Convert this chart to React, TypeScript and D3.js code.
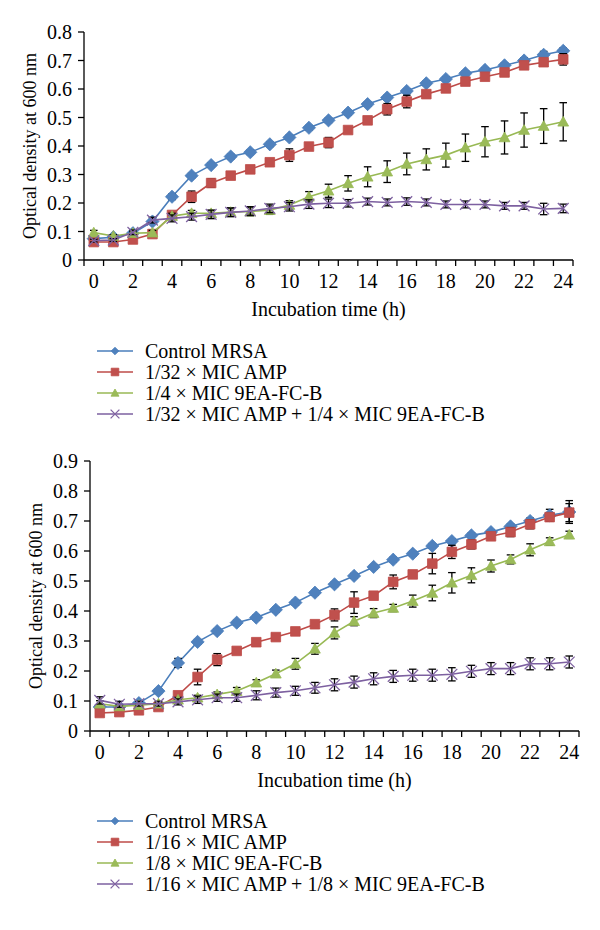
import React from 'react';
import * as d3 from 'd3';

const hours = [0, 1, 2, 3, 4, 5, 6, 7, 8, 9, 10, 11, 12, 13, 14, 15, 16, 17, 18, 19, 20, 21, 22, 23, 24];
const xTickLabels = ['0', '2', '4', '6', '8', '10', '12', '14', '16', '18', '20', '22', '24'];

// Top chart
const topControl = [0.075, 0.08, 0.094, 0.135, 0.222, 0.296, 0.333, 0.363, 0.378, 0.406, 0.43, 0.464, 0.49, 0.517, 0.547, 0.57, 0.593, 0.62, 0.635, 0.655, 0.667, 0.683, 0.7, 0.72, 0.734];
const topControlErr = [0.005, 0.005, 0.005, 0.008, 0.01, 0.008, 0.008, 0.008, 0.008, 0.008, 0.008, 0.008, 0.008, 0.008, 0.008, 0.008, 0.008, 0.008, 0.008, 0.008, 0.008, 0.008, 0.01, 0.012, 0.01];
const topAmp = [0.063, 0.063, 0.072, 0.091, 0.158, 0.222, 0.27, 0.296, 0.318, 0.343, 0.368, 0.398, 0.412, 0.456, 0.49, 0.529, 0.556, 0.582, 0.602, 0.626, 0.643, 0.658, 0.683, 0.694, 0.704];
const topAmpErr = [0.005, 0.005, 0.005, 0.01, 0.012, 0.02, 0.015, 0.01, 0.01, 0.01, 0.022, 0.01, 0.018, 0.01, 0.01, 0.02, 0.022, 0.012, 0.012, 0.013, 0.012, 0.01, 0.01, 0.012, 0.02];
const topFcb = [0.096, 0.084, 0.094, 0.096, 0.154, 0.164, 0.164, 0.168, 0.17, 0.175, 0.193, 0.222, 0.243, 0.269, 0.292, 0.31, 0.337, 0.353, 0.368, 0.394, 0.415, 0.43, 0.456, 0.47, 0.485];
const topFcbErr = [0.008, 0.005, 0.005, 0.008, 0.01, 0.01, 0.01, 0.015, 0.015, 0.015, 0.015, 0.018, 0.023, 0.027, 0.035, 0.038, 0.038, 0.037, 0.042, 0.048, 0.053, 0.058, 0.06, 0.061, 0.067];
const topCombo = [0.068, 0.07, 0.097, 0.14, 0.146, 0.152, 0.16, 0.167, 0.172, 0.181, 0.187, 0.196, 0.199, 0.199, 0.205, 0.202, 0.205, 0.202, 0.195, 0.195, 0.195, 0.19, 0.19, 0.179, 0.181];
const topComboErr = [0.005, 0.005, 0.008, 0.01, 0.012, 0.012, 0.015, 0.015, 0.015, 0.015, 0.015, 0.015, 0.015, 0.013, 0.012, 0.012, 0.013, 0.012, 0.012, 0.012, 0.012, 0.012, 0.012, 0.02, 0.015];
const topLegend = ['Control MRSA', '1/32 × MIC AMP', '1/4 × MIC 9EA-FC-B', '1/32 × MIC AMP + 1/4 × MIC 9EA-FC-B'];
const topYTicks = [0, 0.1, 0.2, 0.3, 0.4, 0.5, 0.6, 0.7, 0.8];

// Bottom chart
const botControl = [0.08, 0.08, 0.093, 0.133, 0.227, 0.297, 0.333, 0.361, 0.378, 0.404, 0.428, 0.461, 0.489, 0.517, 0.547, 0.571, 0.591, 0.617, 0.633, 0.652, 0.663, 0.682, 0.7, 0.719, 0.73];
const botControlErr = [0.005, 0.005, 0.005, 0.008, 0.015, 0.008, 0.008, 0.008, 0.008, 0.008, 0.008, 0.008, 0.008, 0.008, 0.008, 0.008, 0.008, 0.008, 0.008, 0.008, 0.008, 0.008, 0.01, 0.02, 0.038];
const botAmp = [0.06, 0.063, 0.069, 0.08, 0.119, 0.18, 0.238, 0.267, 0.296, 0.313, 0.332, 0.356, 0.387, 0.428, 0.451, 0.497, 0.522, 0.558, 0.597, 0.622, 0.649, 0.663, 0.689, 0.713, 0.728];
const botAmpErr = [0.005, 0.005, 0.005, 0.005, 0.008, 0.026, 0.02, 0.01, 0.012, 0.01, 0.01, 0.01, 0.02, 0.036, 0.01, 0.023, 0.012, 0.034, 0.022, 0.015, 0.012, 0.015, 0.015, 0.012, 0.03];
const botFcb = [0.091, 0.082, 0.086, 0.091, 0.104, 0.111, 0.122, 0.133, 0.161, 0.191, 0.224, 0.274, 0.327, 0.366, 0.393, 0.41, 0.433, 0.46, 0.494, 0.519, 0.55, 0.572, 0.604, 0.632, 0.654];
const botFcbErr = [0.01, 0.005, 0.005, 0.005, 0.008, 0.008, 0.008, 0.012, 0.01, 0.012, 0.018, 0.018, 0.02, 0.015, 0.015, 0.012, 0.02, 0.026, 0.034, 0.025, 0.02, 0.015, 0.02, 0.012, 0.012];
const botCombo = [0.102, 0.089, 0.091, 0.091, 0.097, 0.104, 0.111, 0.111, 0.119, 0.128, 0.134, 0.144, 0.154, 0.163, 0.174, 0.182, 0.186, 0.186, 0.189, 0.199, 0.208, 0.208, 0.224, 0.224, 0.23];
const botComboErr = [0.012, 0.01, 0.008, 0.008, 0.01, 0.012, 0.012, 0.012, 0.015, 0.015, 0.015, 0.018, 0.02, 0.02, 0.02, 0.02, 0.02, 0.02, 0.022, 0.02, 0.02, 0.02, 0.02, 0.02, 0.02];
const botLegend = ['Control MRSA', '1/16 × MIC AMP', '1/8 × MIC 9EA-FC-B', '1/16 × MIC AMP + 1/8 × MIC 9EA-FC-B'];
const botYTicks = [0, 0.1, 0.2, 0.3, 0.4, 0.5, 0.6, 0.7, 0.8, 0.9];

const lineColors = ['#4a7ebb', '#be4b48', '#98b954', '#7d60a0'];
const fillColors = ['#4f81bd', '#c0504d', '#9bbb59', '#8064a2'];
const FONT = 'Liberation Serif, Times New Roman, serif';
const FS = 20;

function markerPath(kind: number, s: number): string {
  if (kind === 0) return `M0,${-s}L${s},0L0,${s}L${-s},0Z`;
  if (kind === 1) return `M${-s},${-s}H${s}V${s}H${-s}Z`;
  if (kind === 2) return `M0,${-s}L${s},${s * 0.8}L${-s},${s * 0.8}Z`;
  return `M${-s},${-s}L${s},${s}M${s},${-s}L${-s},${s}`;
}

function Marker({ kind, x, y, big }: { kind: number; x: number; y: number; big: boolean }) {
  const sizes = big ? [6.6, 4.8, 5.4, 5.4] : [3.8, 3.8, 4.0, 4.4];
  const s = sizes[kind];
  if (kind === 3) {
    return <path d={markerPath(3, s)} transform={`translate(${x},${y})`} stroke={fillColors[3]} strokeWidth={1.3} fill="none" />;
  }
  return <path d={markerPath(kind, s)} transform={`translate(${x},${y})`} fill={fillColors[kind]} stroke={lineColors[kind]} strokeWidth={0.8} />;
}

type ChartProps = {
  left: number;
  right: number;
  yTop: number;
  yBottom: number;
  yMax: number;
  yTicks: number[];
  series: number[][];
  errors: number[][];
  legend: string[];
  legendTop: number;
};

function Chart(p: ChartProps) {
  const x = d3.scaleBand<number>().domain(hours).range([p.left, p.right]);
  const y = d3.scaleLinear().domain([0, p.yMax]).range([p.yBottom, p.yTop]);
  const bw = x.bandwidth();
  const cx = (h: number) => (x(h) as number) + bw / 2;
  const line = d3.line<number>().x((_, i) => cx(hours[i])).y((v) => y(v));
  const boundaries = hours.map((h) => x(h) as number).concat([p.right]);
  return (
    <g>
      {/* y axis */}
      <line x1={p.left} x2={p.left} y1={p.yTop} y2={p.yBottom} stroke="#000" strokeWidth={1.3} />
      {p.yTicks.map((t) => (
        <g key={t}>
          <line x1={p.left - 6} x2={p.left} y1={y(t)} y2={y(t)} stroke="#000" strokeWidth={1.3} />
          <text x={p.left - 12} y={y(t)} dy="0.35em" textAnchor="end" fontSize={FS} fontFamily={FONT}>
            {t === 0 ? '0' : t.toFixed(1)}
          </text>
        </g>
      ))}
      {/* x axis */}
      <line x1={p.left} x2={p.right} y1={p.yBottom} y2={p.yBottom} stroke="#000" strokeWidth={1.3} />
      {boundaries.map((b, i) => (
        <line key={i} x1={b} x2={b} y1={p.yBottom} y2={p.yBottom + 6} stroke="#000" strokeWidth={1.3} />
      ))}
      {xTickLabels.map((l) => (
        <text key={l} x={cx(+l)} y={p.yBottom + 28} textAnchor="middle" fontSize={FS} fontFamily={FONT}>
          {l}
        </text>
      ))}
      <text x={(p.left + p.right) / 2} y={p.yBottom + 56} textAnchor="middle" fontSize={FS} fontFamily={FONT}>
        Incubation time (h)
      </text>
      <text
        transform={`translate(${p.left - 48},${(p.yTop + p.yBottom) / 2}) rotate(-90)`}
        textAnchor="middle"
        fontSize={18}
        fontFamily={FONT}
      >
        Optical density at 600 nm
      </text>
      {/* series */}
      {p.series.map((s, si) => (
        <g key={si}>
          <path d={line(s) || ''} fill="none" stroke={lineColors[si]} strokeWidth={1.6} />
          {s.map((v, i) => {
            const e = p.errors[si][i];
            const xc = cx(hours[i]);
            return (
              <g key={i} stroke="#000" strokeWidth={1.3}>
                <line x1={xc} x2={xc} y1={y(v - e)} y2={y(v + e)} />
                <line x1={xc - 3.8} x2={xc + 3.8} y1={y(v - e)} y2={y(v - e)} />
                <line x1={xc - 3.8} x2={xc + 3.8} y1={y(v + e)} y2={y(v + e)} />
              </g>
            );
          })}
          {s.map((v, i) => (
            <Marker key={i} kind={si} x={cx(hours[i])} y={y(v)} big={true} />
          ))}
        </g>
      ))}
      {/* legend */}
      {p.legend.map((l, i) => {
        const ly = p.legendTop + i * 21;
        return (
          <g key={l}>
            <line x1={97} x2={133} y1={ly} y2={ly} stroke={lineColors[i]} strokeWidth={1.6} />
            <Marker kind={i} x={115} y={ly} big={false} />
            <text x={145} y={ly} dy="0.35em" fontSize={FS} fontFamily={FONT}>
              {l}
            </text>
          </g>
        );
      })}
    </g>
  );
}

export default function App() {
  return (
    <svg width={600} height={930} style={{ position: 'absolute', left: 0, top: 0, background: '#fff' }}>
      <rect width={600} height={930} fill="#fff" />
      <Chart
        left={84}
        right={573}
        yTop={32}
        yBottom={260}
        yMax={0.8}
        yTicks={topYTicks}
        series={[topControl, topAmp, topFcb, topCombo]}
        errors={[topControlErr, topAmpErr, topFcbErr, topComboErr]}
        legend={topLegend}
        legendTop={351}
      />
      <Chart
        left={90}
        right={579}
        yTop={461}
        yBottom={731}
        yMax={0.9}
        yTicks={botYTicks}
        series={[botControl, botAmp, botFcb, botCombo]}
        errors={[botControlErr, botAmpErr, botFcbErr, botComboErr]}
        legend={botLegend}
        legendTop={821}
      />
    </svg>
  );
}
